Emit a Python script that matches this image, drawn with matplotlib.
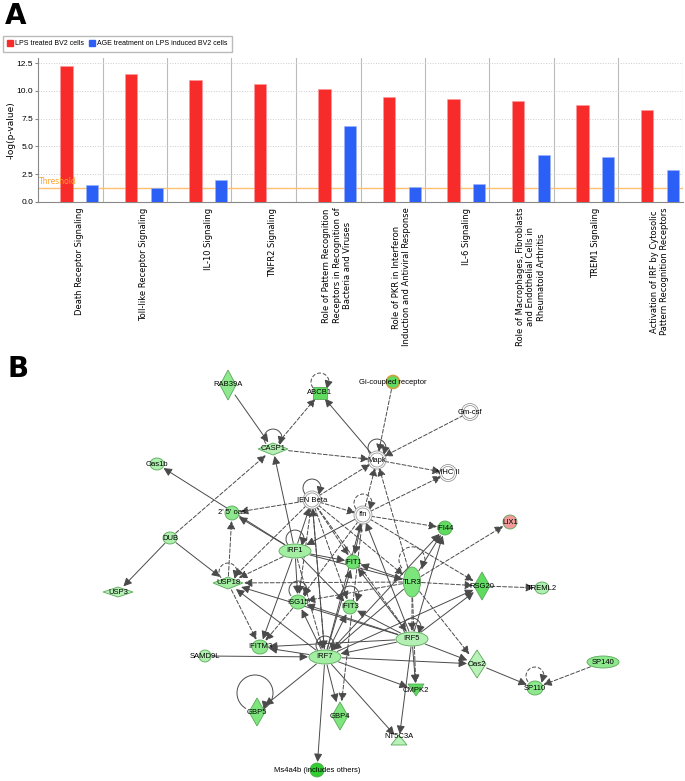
import numpy as np
import matplotlib
matplotlib.use('Agg')
import matplotlib.pyplot as plt
import matplotlib.patches as mpl_patches

# ---- panel A data ----
pathways = [
    'Death Receptor Signaling',
    'Toll-like Receptor Signaling',
    'IL-10 Signaling',
    'TNFR2 Signaling',
    'Role of Pattern Recognition\nReceptors in Recognition of\nBacteria and Viruses',
    'Role of PKR in Interferon\nInduction and Antiviral Response',
    'IL-6 Signaling',
    'Role of Macrophages, Fibroblasts\nand Endothelial Cells in\nRheumatoid Arthritis',
    'TREM1 Signaling',
    'Activation of IRF by Cytosolic\nPattern Recognition Receptors',
]
lps_values = [12.2, 11.5, 11.0, 10.65, 10.15, 9.4, 9.3, 9.1, 8.7, 8.3]
age_values = [1.5, 1.25, 2.0, 0.0, 6.85, 1.35, 1.6, 4.2, 4.05, 2.85]
threshold = 1.3
series_names = ['LPS treated BV2 cells', 'AGE treatment on LPS induced BV2 cells']

# ---- panel B data ----
nodes = ['RAB39A', 'ABCB1', 'CASP1', 'Oas1b', "2' 5' oas", 'DUB', 'Mapk', 'IFN Beta',
         'Ifn', 'IRF1', 'Gi-coupled receptor', 'Gm-csf', 'MHC II', 'IFI44', 'LIX1',
         'USP3', 'USP18', 'ISG15', 'IFIT3', 'IFIT1', 'IFITM3', 'SAMD9L', 'IRF7',
         'GBP5', 'GBP4', 'Ms4a4b (includes others)', 'TLR3', 'RSG20', 'TREML2',
         'IRF5', 'Oas2', 'CMPK2', 'NT5C3A', 'SP110', 'SP140']

edges = [
    ('RAB39A', 'CASP1', 0), ('CASP1', 'ABCB1', 1), ('Mapk', 'ABCB1', 0),
    ('Gi-coupled receptor', 'Mapk', 1), ('Gm-csf', 'Mapk', 1), ('CASP1', 'Mapk', 1),
    ('Mapk', 'MHC II', 1), ('DUB', 'CASP1', 1), ('IRF1', 'CASP1', 0),
    ('IRF1', 'Oas1b', 0), ('IRF1', "2' 5' oas", 0), ('IFN Beta', "2' 5' oas", 1),
    ('USP18', "2' 5' oas", 1), ('DUB', 'USP3', 0), ('DUB', 'USP18', 0),
    ('IFN Beta', 'Mapk', 1), ('Ifn', 'Mapk', 1), ('TLR3', 'Mapk', 1),
    ('Ifn', 'MHC II', 1), ('IFN Beta', 'Ifn', 1), ('Ifn', 'IFI44', 1),
    ('TLR3', 'LIX1', 1), ('IRF5', 'IFI44', 0), ('IRF7', 'IFI44', 0),
    ('TLR3', 'IFI44', 0), ('TLR3', 'RSG20', 1), ('IRF5', 'RSG20', 0),
    ('IRF7', 'RSG20', 0), ('Ifn', 'RSG20', 1), ('RSG20', 'TREML2', 1),
    ('IRF5', 'Oas2', 0), ('IRF7', 'Oas2', 0), ('TLR3', 'Oas2', 1),
    ('Oas2', 'SP110', 0), ('SP140', 'SP110', 1), ('IRF5', 'CMPK2', 0),
    ('TLR3', 'CMPK2', 1), ('IRF7', 'CMPK2', 0), ('IRF5', 'NT5C3A', 0),
    ('IRF7', 'NT5C3A', 0), ('IRF7', 'GBP5', 0), ('IRF7', 'GBP4', 0),
    ('Ifn', 'GBP4', 1), ('IRF7', 'Ms4a4b (includes others)', 0), ('SAMD9L', 'IRF7', 0),
    ('IRF7', 'IFITM3', 0), ('IRF5', 'IFITM3', 0), ('USP18', 'IFITM3', 1),
    ('IRF1', 'IFITM3', 0), ('ISG15', 'IFITM3', 1), ('IRF7', 'USP18', 0),
    ('IRF1', 'USP18', 1), ('TLR3', 'USP18', 1), ('IFN Beta', 'USP18', 1),
    ('IRF5', 'USP18', 0), ('IRF7', 'ISG15', 0), ('IRF5', 'ISG15', 0),
    ('IRF1', 'ISG15', 0), ('TLR3', 'ISG15', 1), ('IRF7', 'IFIT3', 0),
    ('IRF5', 'IFIT3', 0), ('IRF1', 'IFIT3', 0), ('IFN Beta', 'IFIT3', 1),
    ('IRF7', 'IFIT1', 0), ('IRF5', 'IFIT1', 0), ('IRF1', 'IFIT1', 0),
    ('TLR3', 'IFIT1', 0), ('Ifn', 'IFIT1', 0), ('IFN Beta', 'IFIT1', 1),
    ('IRF5', 'IRF7', 0), ('TLR3', 'IRF7', 0), ('IRF1', 'IRF7', 1),
    ('TLR3', 'IRF5', 1), ('IRF7', 'IFN Beta', 0), ('IRF1', 'IFN Beta', 0),
    ('IRF7', 'Ifn', 0), ('IRF5', 'Ifn', 0), ('Ifn', 'IRF1', 0),
    ('IFN Beta', 'IRF7', 1), ('IFN Beta', 'ISG15', 1), ('IFN Beta', 'TLR3', 1),
    ('Ifn', 'ISG15', 1), ('IFN Beta', 'IRF5', 1), ('IRF1', 'TLR3', 0),
]
self_loops = [('ABCB1', 1), ('CASP1', 0), ('Mapk', 0), ('IFN Beta', 0), ('Ifn', 1),
              ('USP18', 1), ('ISG15', 0), ('IFIT3', 0), ('IRF1', 0), ('IRF7', 0),
              ('IRF5', 0), ('TLR3', 1), ('SP110', 1), ('GBP5', 0)]

# ---- layout / style (pixel coords of the network area) ----
NODE_LAYOUT = {
    'RAB39A': (228, 385, 'diamond', 16, 30, '#8ee88e'),
    'ABCB1': (320, 393, 'square', 14, 12, '#5fdc5f'),
    'CASP1': (273, 449, 'diamond', 30, 12, '#b4f0b4'),
    'Oas1b': (157, 464, 'circle', 14, 12, '#aef0ae'),
    "2' 5' oas": (232, 513, 'circle', 14, 14, '#8ee88e'),
    'DUB': (170, 538, 'circle', 14, 12, '#aef0ae'),
    'Mapk': (377, 460, 'double', 14, 14, 'white'),
    'IFN Beta': (312, 500, 'double', 14, 14, 'white'),
    'Ifn': (363, 515, 'double', 14, 14, 'white'),
    'IRF1': (295, 551, 'ellipse', 32, 14, '#a4eea4'),
    'Gi-coupled receptor': (393, 382, 'gpcr', 13, 13, '#5fdc5f'),
    'Gm-csf': (470, 412, 'double', 13, 13, 'white'),
    'MHC II': (448, 473, 'double', 13, 13, 'white'),
    'IFI44': (445, 528, 'circle', 14, 14, '#5fdc5f'),
    'LIX1': (510, 522, 'circle', 14, 14, '#f29a9a'),
    'USP3': (118, 592, 'diamond', 30, 10, '#b8f2b8'),
    'USP18': (228, 583, 'diamond', 30, 12, '#a4eea4'),
    'ISG15': (298, 602, 'circle', 16, 14, '#8ee88e'),
    'IFIT3': (350, 607, 'circle', 14, 14, '#8ee88e'),
    'IFIT1': (353, 562, 'circle', 14, 14, '#6ee26e'),
    'IFITM3': (260, 647, 'circle', 16, 14, '#8ee88e'),
    'SAMD9L': (205, 656, 'circle', 12, 12, '#aef0ae'),
    'IRF7': (325, 657, 'ellipse', 32, 14, '#a4eea4'),
    'GBP5': (257, 712, 'diamond', 16, 28, '#7ce67c'),
    'GBP4': (340, 716, 'diamond', 16, 28, '#7ce67c'),
    'Ms4a4b (includes others)': (317, 770, 'circle', 14, 14, '#2fcf2f'),
    'TLR3': (412, 582, 'ellipse', 17, 30, '#7ce67c'),
    'RSG20': (482, 586, 'diamond', 16, 28, '#5fdc5f'),
    'TREML2': (542, 588, 'circle', 14, 12, '#aef0ae'),
    'IRF5': (412, 639, 'ellipse', 32, 14, '#b4f0b4'),
    'Oas2': (477, 664, 'diamond', 18, 28, '#b8f2b8'),
    'CMPK2': (416, 690, 'tri_down', 16, 12, '#5fdc5f'),
    'NT5C3A': (399, 740, 'tri_up', 16, 10, '#b8f2b8'),
    'SP110': (535, 688, 'circle', 16, 14, '#8ee88e'),
    'SP140': (603, 662, 'ellipse', 32, 12, '#8ee88e'),
}
LOOP_RADIUS = {'TLR3': 13, 'GBP5': 18}
LINE_COLOR = '#4a4a4a'
NODE_EDGE = '#5aa85a'
DASH = (0, (4, 2))
NARROW = ['Liberation Sans Narrow', 'Liberation Sans', 'DejaVu Sans']

RED = '#f82b2b'
BLUE = '#2b5ff5'

fig = plt.figure(figsize=(6.85, 7.81), dpi=100)

# ---------------- network (panel B) ----------------
axn = fig.add_axes([0, 0, 1, 1])
axn.set_xlim(0, 685)
axn.set_ylim(781, 0)
axn.axis('off')
axn.patch.set_alpha(0)


def boundary(name, tx, ty):
    x, y, _, w, h, _ = NODE_LAYOUT[name]
    dx, dy = tx - x, ty - y
    d = np.hypot(dx / (w / 2 + 1), dy / (h / 2 + 1))
    if d == 0:
        return x, y
    return x + dx / d, y + dy / d


for src, dst, dashed in edges:
    sx, sy = NODE_LAYOUT[src][:2]
    tx, ty = NODE_LAYOUT[dst][:2]
    pa = boundary(src, tx, ty)
    pb = boundary(dst, sx, sy)
    arr = mpl_patches.FancyArrowPatch(
        pa, pb, arrowstyle='-|>,head_length=0.7,head_width=0.35', mutation_scale=7,
        color=LINE_COLOR, lw=0.7, linestyle=DASH if dashed else '-',
        shrinkA=0, shrinkB=0, zorder=2)
    axn.add_patch(arr)

for name, dashed in self_loops:
    x, y, _, w, h, _ = NODE_LAYOUT[name]
    r = LOOP_RADIUS.get(name, 9)
    if name == 'GBP5':
        cx, cy = x - 2, y - 19
        t1, t2 = 120, 60
    else:
        cx, cy = x, y - h / 2 - r * 0.55
        t1, t2 = 140, 40
    arc = mpl_patches.Arc((cx, cy), 2 * r, 2 * r, theta1=t1, theta2=t2,
                          color=LINE_COLOR, lw=0.7,
                          linestyle=DASH if dashed else '-', zorder=2)
    axn.add_patch(arc)
    ex = cx + r * np.cos(np.radians(t2))
    ey = cy + r * np.sin(np.radians(t2))
    axn.add_patch(mpl_patches.FancyArrowPatch(
        (ex + 0.5, ey - 2), (ex - 0.3, ey + 1),
        arrowstyle='-|>,head_length=0.7,head_width=0.35', mutation_scale=7,
        color=LINE_COLOR, lw=0.7, shrinkA=0, shrinkB=0, zorder=2))

for name in nodes:
    x, y, shape, w, h, fc = NODE_LAYOUT[name]
    kw = dict(facecolor=fc, edgecolor=NODE_EDGE, lw=0.6, zorder=3)
    if shape in ('circle', 'ellipse'):
        axn.add_patch(mpl_patches.Ellipse((x, y), w, h, **kw))
    elif shape == 'diamond':
        pts = [(x - w / 2, y), (x, y - h / 2), (x + w / 2, y), (x, y + h / 2)]
        axn.add_patch(mpl_patches.Polygon(pts, closed=True, **kw))
    elif shape == 'square':
        axn.add_patch(mpl_patches.Rectangle((x - w / 2, y - h / 2), w, h, **kw))
    elif shape == 'tri_down':
        pts = [(x - w / 2, y - h / 2), (x + w / 2, y - h / 2), (x, y + h / 2)]
        axn.add_patch(mpl_patches.Polygon(pts, closed=True, **kw))
    elif shape == 'tri_up':
        pts = [(x - w / 2, y + h / 2), (x + w / 2, y + h / 2), (x, y - h / 2)]
        axn.add_patch(mpl_patches.Polygon(pts, closed=True, **kw))
    elif shape == 'gpcr':
        axn.add_patch(mpl_patches.Ellipse((x, y), w, h, facecolor=fc,
                                          edgecolor='#c9a040', lw=1.2, zorder=3))
    elif shape == 'double':
        axn.add_patch(mpl_patches.Ellipse((x, y), w + 4, h + 4, facecolor='white',
                                          edgecolor='#999999', lw=0.6, zorder=3))
        axn.add_patch(mpl_patches.Ellipse((x, y), w, h, facecolor='white',
                                          edgecolor='#999999', lw=0.6, zorder=3))
    ty = y - 4 if name == 'NT5C3A' else y
    axn.text(x, ty, name, fontsize=5.5, family='Liberation Sans',
             ha='center', va='center', color='black', zorder=4)

# ---------------- bar chart (panel A) ----------------
ax = fig.add_axes([38 / 685, 1 - 202 / 781, 645 / 685, 144 / 781])
xpos = np.arange(len(pathways))
bw = 0.19
ax.bar(xpos - 0.2, lps_values, bw, color=RED, edgecolor='#ff9a9a', lw=0.4,
       zorder=3, label=series_names[0])
ax.bar(xpos + 0.2, age_values, bw, color=BLUE, edgecolor='#9ab4ff', lw=0.4,
       zorder=3, label=series_names[1])

ax.set_xlim(-0.64, len(pathways) - 0.64)
ax.set_ylim(0, 12.95)
for i in range(len(pathways)):
    ax.axvline(i + 0.36, color='#bbbbbb', lw=0.8, zorder=1)
ax.set_yticks([0, 2.5, 5.0, 7.5, 10.0, 12.5])
ax.set_yticklabels(['0.0', '2.5', '5.0', '7.5', '10.0', '12.5'], fontsize=6,
                   family=NARROW)
ax.yaxis.grid(True, color='#cccccc', linestyle=':', lw=0.7, zorder=0)
ax.axhline(threshold, color='#ffc070', lw=1.0, zorder=2)
ax.text(-0.62, threshold + 0.15, 'Threshold', color='#ffa030', fontsize=5.5,
        va='bottom', ha='left', zorder=4)

ax.set_xticks(xpos)
ax.set_xticklabels(pathways, rotation=90, fontsize=6, ha='center', va='top',
                   multialignment='center')
ax.tick_params(axis='x', length=0, pad=4)
ax.tick_params(axis='y', length=2, color='#888888', pad=1.5)
ax.set_ylabel('-log(p-value)', fontsize=6.5, labelpad=1)
for side in ['top', 'right']:
    ax.spines[side].set_visible(False)
for side in ['left', 'bottom']:
    ax.spines[side].set_color('#888888')
    ax.spines[side].set_linewidth(0.8)

handles = [mpl_patches.Patch(color=RED), mpl_patches.Patch(color=BLUE)]
fig.legend(handles, series_names, loc='upper left', bbox_to_anchor=(3 / 685, 1 - 36 / 781),
           ncol=2, prop={'family': NARROW, 'size': 5}, frameon=True, fancybox=False,
           edgecolor='#aaaaaa', handlelength=0.9, handleheight=0.9, handletextpad=0.3,
           columnspacing=0.6, borderpad=0.6, borderaxespad=0)

fig.text(5 / 685, 1 - 24 / 781, 'A', fontsize=20, weight='bold', va='baseline', ha='left')
fig.text(8 / 685, 1 - 377 / 781, 'B', fontsize=20, weight='bold', va='baseline', ha='left')

fig.savefig('out.png', dpi=100)
